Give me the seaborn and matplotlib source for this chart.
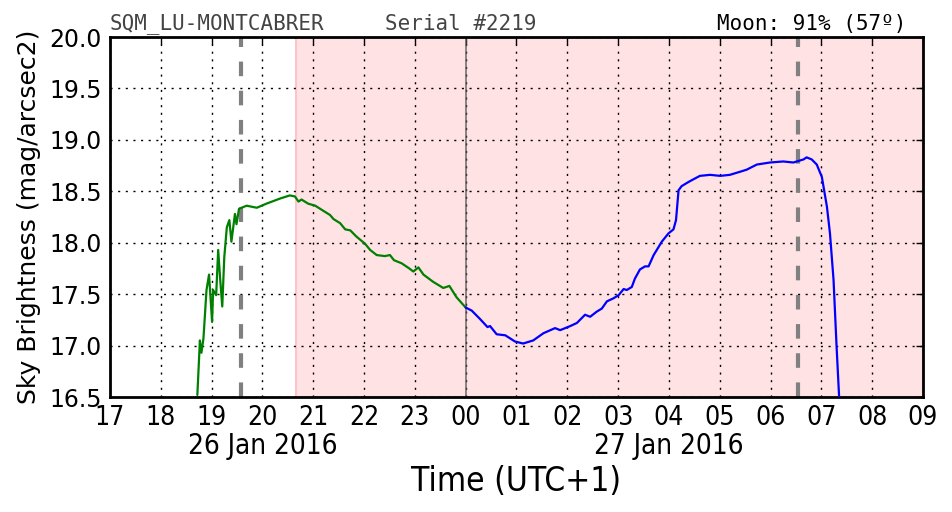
import numpy as np
import pandas as pd
import matplotlib
matplotlib.use('Agg')
import matplotlib.pyplot as plt
import seaborn as sns

# hours since 00:00 of 26 Jan 2016 (UTC+1), values in mag/arcsec2
green_t = [18.72, 18.77, 18.80, 18.84, 18.90, 18.95, 19.01, 19.03, 19.09, 19.13,
           19.17, 19.21, 19.25, 19.30, 19.35, 19.39, 19.46, 19.49, 19.54, 19.69,
           19.89, 20.08, 20.35, 20.54, 20.64, 20.71, 20.77, 20.90, 21.04, 21.20,
           21.33, 21.40, 21.53, 21.63, 21.73, 21.85, 22.02, 22.12, 22.25, 22.41,
           22.51, 22.59, 22.74, 22.89, 22.97, 23.07, 23.17, 23.36, 23.56, 23.68,
           23.82, 24.00]
green_v = [16.52, 17.05, 16.93, 17.07, 17.54, 17.69, 17.23, 17.54, 17.49, 17.93,
           17.64, 17.38, 17.86, 18.15, 18.22, 18.01, 18.28, 18.18, 18.33, 18.36,
           18.34, 18.38, 18.43, 18.46, 18.45, 18.40, 18.42, 18.38, 18.36, 18.31,
           18.27, 18.23, 18.19, 18.13, 18.12, 18.06, 17.99, 17.93, 17.88, 17.87,
           17.88, 17.83, 17.80, 17.75, 17.72, 17.76, 17.69, 17.62, 17.56, 17.58,
           17.47, 17.37]

blue_t = [24.00, 24.12, 24.28, 24.43, 24.48, 24.61, 24.78, 24.97, 25.13, 25.33,
          25.53, 25.76, 25.86, 26.06, 26.19, 26.35, 26.45, 26.58, 26.68, 26.78,
          26.91, 27.01, 27.11, 27.17, 27.27, 27.33, 27.43, 27.53, 27.60, 27.70,
          27.86, 27.99, 28.09, 28.14, 28.19, 28.25, 28.35, 28.42, 28.61, 28.81,
          29.01, 29.20, 29.40, 29.53, 29.73, 29.99, 30.25, 30.45, 30.65, 30.71,
          30.81, 30.91, 31.01, 31.11, 31.17, 31.24, 31.30, 31.35, 31.38]
blue_v = [17.37, 17.34, 17.26, 17.18, 17.19, 17.11, 17.10, 17.04, 17.02, 17.05,
          17.12, 17.17, 17.15, 17.19, 17.22, 17.30, 17.28, 17.33, 17.36, 17.43,
          17.46, 17.49, 17.55, 17.54, 17.57, 17.65, 17.74, 17.77, 17.77, 17.88,
          18.01, 18.09, 18.13, 18.22, 18.51, 18.55, 18.58, 18.60, 18.65, 18.66,
          18.65, 18.66, 18.69, 18.71, 18.76, 18.78, 18.79, 18.78, 18.81, 18.83,
          18.81, 18.76, 18.64, 18.35, 18.09, 17.64, 16.99, 16.50, 16.20]

hour_ticks = list(range(17, 34))
hour_labels = ['%02d' % (h % 24) for h in hour_ticks]
date_ticks = [20, 28]
date_labels = ['26 Jan 2016', '27 Jan 2016']
twilight = [19.58, 30.54]
night_start = 20.66

title_left = 'SQM_LU-MONTCABRER'
title_mid = 'Serial #2219'
title_right = 'Moon: 91% (57º)'

sns.set_style('white')
plt.rcParams['font.family'] = ['DejaVu Sans']
plt.rcParams['text.color'] = 'black'
plt.rcParams['axes.labelcolor'] = 'black'
plt.rcParams['xtick.color'] = 'black'
plt.rcParams['ytick.color'] = 'black'

fig = plt.figure(figsize=(9.52, 5.12), dpi=100)
ax = fig.add_axes([0.1155, 0.2246, 0.854, 0.7031])

ax.axvspan(night_start, 33, facecolor='#ffe2e4', edgecolor='#ffc4c8', lw=1.5, zorder=0)

green = pd.DataFrame({'t': green_t, 'v': green_v})
blue = pd.DataFrame({'t': blue_t, 'v': blue_v})
sns.lineplot(data=green, x='t', y='v', color='green', lw=1.6, estimator=None, sort=False, ax=ax, zorder=3)
sns.lineplot(data=blue, x='t', y='v', color='blue', lw=1.6, estimator=None, sort=False, ax=ax, zorder=3)

for t in twilight:
    ax.axvline(t, color='gray', lw=3, ls=(0, (3.5, 3.5)), zorder=2)
ax.axvline(24, color='#555555', lw=1.2, alpha=0.8, zorder=2)

ax.set_xlim(17, 33)
ax.set_ylim(16.5, 20.0)
ax.xaxis.remove_overlapping_locs = False
ax.set_xticks(hour_ticks)
ax.set_xticklabels(hour_labels, fontsize=19, stretch='condensed')
ax.set_xticks(date_ticks, minor=True)
ax.set_xticklabels(date_labels, minor=True, fontsize=20, stretch='condensed')
ax.tick_params(axis='x', which='minor', length=0, pad=25)
yt = np.arange(16.5, 20.01, 0.5)
ax.set_yticks(yt)
ax.set_yticklabels(['%.1f' % v for v in yt], fontsize=17)
ax.tick_params(axis='both', which='major', direction='in', length=5, width=1,
               top=True, right=True, color='black')
ax.tick_params(axis='x', which='major', pad=6)
ax.tick_params(axis='y', which='major', pad=6)

ax.grid(True, which='major', color='black', ls=(0, (1.5, 4)), lw=1)
for s in ax.spines.values():
    s.set_color('black')
    s.set_linewidth(2)

ax.set_xlabel('Time (UTC+1)', fontsize=24, stretch='condensed', labelpad=4)
ax.set_ylabel('Sky Brightness (mag/arcsec2)', fontsize=18, labelpad=6)

ax.text(0.0, 1.008, title_left, transform=ax.transAxes, family='DejaVu Sans Mono',
        fontsize=15, color='#444444', ha='left', va='bottom')
ax.text(0.338, 1.008, title_mid, transform=ax.transAxes, family='DejaVu Sans Mono',
        fontsize=15, color='#444444', ha='left', va='bottom')
ax.text(0.98, 1.008, title_right, transform=ax.transAxes, family='DejaVu Sans Mono',
        fontsize=15, color='black', ha='right', va='bottom')

fig.savefig('out.png', dpi=100)
